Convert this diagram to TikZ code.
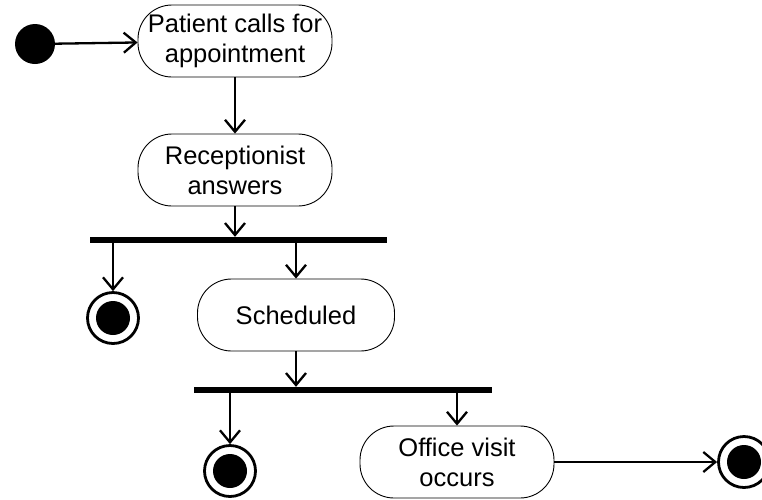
\documentclass[tikz,border=0pt]{standalone}
\usepackage{fontspec}
\setmainfont{Liberation Sans}
\usetikzlibrary{arrows.meta}

\tikzset{
  action/.style={draw, line width=0.9pt, rounded corners=34pt, minimum width=194pt,
    minimum height=72pt, align=center, font=\fontsize{25.5}{30}\selectfont},
  initstate/.style={circle, fill, minimum size=40pt, inner sep=0pt},
  endstate/.style={circle, draw, line width=2.8pt, minimum size=51pt, inner sep=0pt,
    path picture={\fill (path picture bounding box.center) circle (17pt);}},
  bar/.style={fill, inner sep=0pt, minimum height=6pt},
  flow/.style={line width=2.3pt, -{Straight Barb[length=12pt, width=20pt, line width=2.3pt]}}
}

\begin{document}
\begin{tikzpicture}[x=1pt, y=-1pt]
  \useasboundingbox (0,0) rectangle (762,499);

  \node[initstate] (S) at (35,44) {};
  \node[action] (A) at (235,41) {Patient calls for\\appointment};
  \node[action] (B) at (235,170) {Receptionist\\answers};
  \node[bar, minimum width=297pt] (F1) at (238.5,240) {};
  \node[endstate] (E1) at (113,318) {};
  \node[action, minimum width=197pt] (C) at (296,315) {Scheduled};
  \node[bar, minimum width=298pt] (F2) at (343,390) {};
  \node[endstate] (E2) at (230,471) {};
  \node[action] (D) at (457,462) {Office visit\\occurs};
  \node[endstate] (E3) at (744,462) {};

  \draw[flow] (S) -- (A);
  \draw[flow] (A) -- (B);
  \draw[flow] (B) -- (B |- F1.north);
  \draw[flow] (F1.south -| E1) -- (E1);
  \draw[flow] (F1.south -| C) -- (C);
  \draw[flow] (C) -- (C |- F2.north);
  \draw[flow] (F2.south -| E2) -- (E2);
  \draw[flow] (F2.south -| D) -- (D);
  \draw[flow] (D) -- (E3);
\end{tikzpicture}
\end{document}
